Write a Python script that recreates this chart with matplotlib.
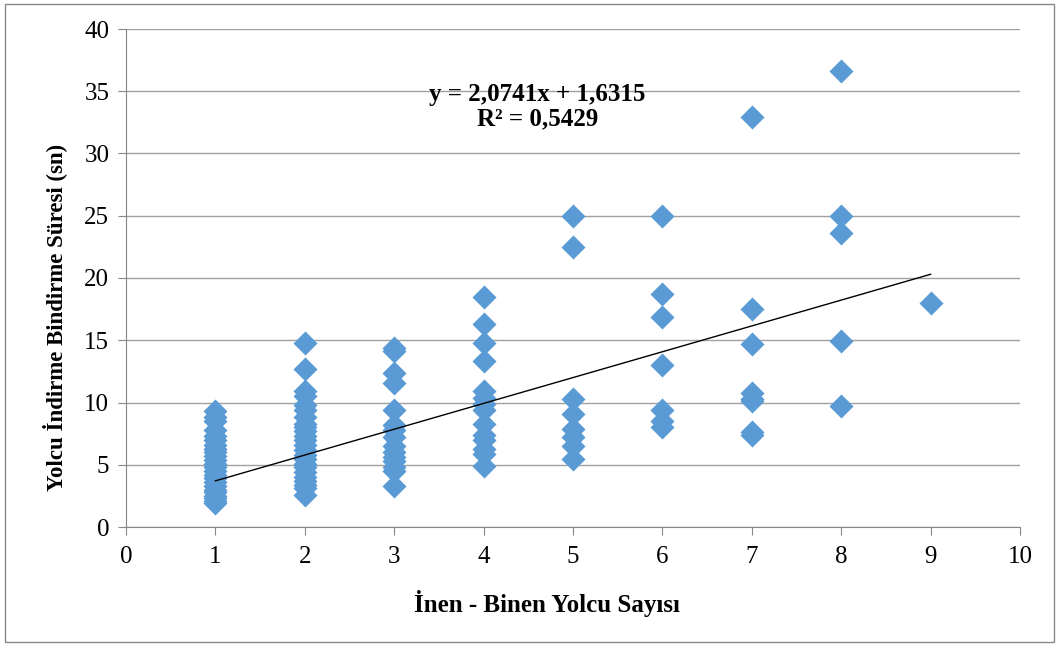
import matplotlib
matplotlib.use('Agg')
from matplotlib import pyplot as plt
from matplotlib.patches import Rectangle
import numpy as np

plt.rcParams['font.family'] = ['Liberation Serif', 'DejaVu Serif']

# passenger count -> boarding/alighting time (s)
x1 = [1] * 24
y1 = [9.3, 8.8, 8.5, 7.8, 7.3, 7.0, 6.6, 6.3, 6.0, 5.7, 5.4, 5.1,
      4.8, 4.5, 4.2, 3.9, 3.6, 3.3, 3.0, 2.8, 2.5, 2.3, 2.1, 1.9]
x2 = [2] * 24
y2 = [14.8, 12.7, 10.9, 10.5, 9.8, 9.4, 8.8, 8.3, 8.0, 7.7, 7.3, 7.0,
      6.6, 6.2, 5.8, 5.5, 5.1, 4.8, 4.4, 4.0, 3.7, 3.4, 3.1, 2.6]
x3 = [3] * 15
y3 = [14.4, 14.1, 12.4, 11.6, 9.4, 8.2, 7.8, 7.2, 6.5, 6.0, 5.6, 5.3, 4.8, 4.5, 3.3]
x4 = [4] * 14
y4 = [18.5, 16.3, 14.8, 13.3, 10.9, 10.4, 9.9, 9.4, 8.3, 7.4, 7.0, 6.3, 5.9, 4.9]
x5 = [5] * 8
y5 = [25.0, 22.5, 10.3, 9.1, 7.9, 7.2, 6.5, 5.5]
x6 = [6] * 7
y6 = [25.0, 18.7, 16.9, 13.0, 9.4, 8.5, 8.0]
x7 = [7] * 8
y7 = [32.9, 17.5, 14.7, 10.8, 10.3, 10.1, 7.6, 7.4]
x8 = [8] * 5
y8 = [36.6, 25.0, 23.6, 14.9, 9.7]
x9 = [9]
y9 = [18.0]

xs = x1 + x2 + x3 + x4 + x5 + x6 + x7 + x8 + x9
ys = y1 + y2 + y3 + y4 + y5 + y6 + y7 + y8 + y9

slope = 2.0741
intercept = 1.6315
trend_x = [1, 9]

fig = plt.figure(figsize=(10.59, 6.5), dpi=100)
fig.patches.append(Rectangle((0.005, 0.012), 0.99, 0.982, transform=fig.transFigure,
                             fill=False, edgecolor='#888888', linewidth=1.0))
ax = fig.add_axes([126 / 1059, 1 - 527 / 650, (1020 - 126) / 1059, (527 - 29) / 650])

ax.set_xlim(0, 10)
ax.set_ylim(0, 40)
ax.set_xticks(range(0, 11))
ax.set_yticks(range(0, 41, 5))
ax.yaxis.grid(True, color='#a0a0a0', linewidth=1.0)
ax.set_axisbelow(True)
for s in ['top', 'right']:
    ax.spines[s].set_visible(False)
ax.spines['left'].set_color('#868686')
ax.spines['bottom'].set_color('#868686')
ax.tick_params(axis='both', direction='out', length=6, color='#868686',
               labelsize=18, pad=6)
ax.tick_params(axis='x', pad=8)

ax.scatter(xs, ys, marker='D', s=150, color='#5B9BD5', zorder=3, linewidths=0)
tx = np.array(trend_x)
ax.plot(tx, slope * tx + intercept, color='black', linewidth=1.0, zorder=4)

# trendline label (two lines)
ax.text(4.6, 34.7, 'y = 2,0741x + 1,6315', ha='center', va='center',
        fontsize=18, fontweight='bold')
ax.text(4.6, 32.8, 'R² = 0,5429', ha='center', va='center',
        fontsize=18, fontweight='bold')

ax.set_xlabel('İnen - Binen Yolcu Sayısı', fontsize=18, fontweight='bold')
ax.xaxis.set_label_coords((547 - 126) / 894, (527 - 590) / 498)
ax.set_ylabel('Yolcu İndirme Bindirme Süresi (sn)', fontsize=16.5, fontweight='bold')
ax.yaxis.set_label_coords((67 - 126) / 894, (527 - 317) / 498)

fig.savefig('out.png', dpi=100)
